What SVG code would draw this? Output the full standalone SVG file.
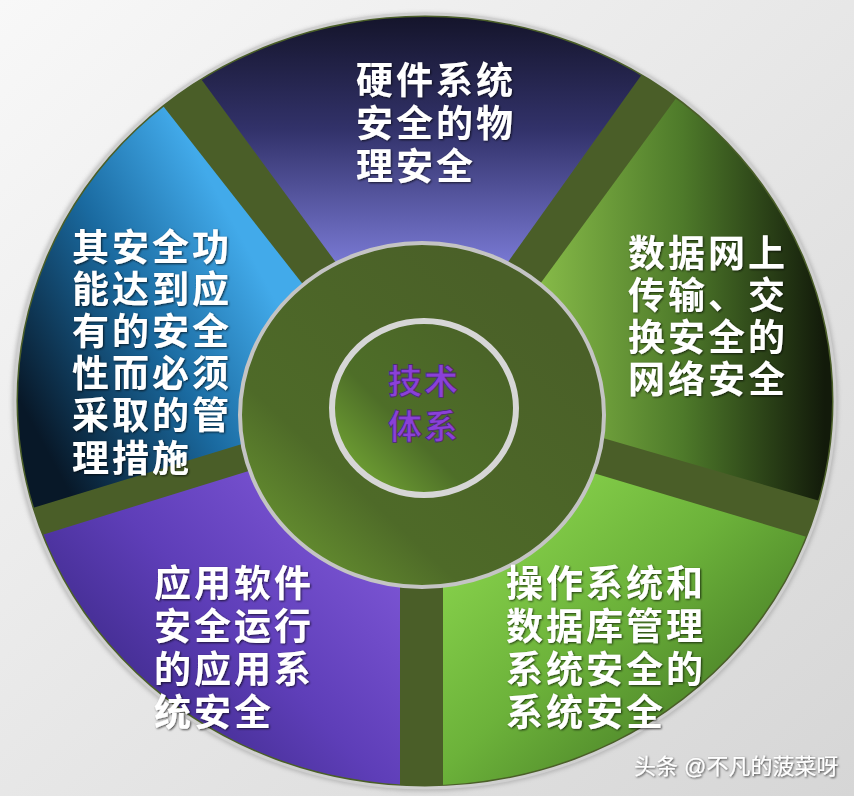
<svg xmlns="http://www.w3.org/2000/svg" width="854" height="796" viewBox="0 0 854 796">
<defs>
<style>
.lbl{font-family:"Liberation Sans","Noto Sans CJK SC",sans-serif;font-size:37px;font-weight:bold;fill:#ffffff;letter-spacing:3px;filter:url(#shadow);}
.ctr{font-family:"Liberation Sans","Noto Sans CJK SC",sans-serif;font-size:34px;font-weight:bold;fill:#8a40d8;stroke:#4a2a70;stroke-width:0.8;letter-spacing:2px;}
.foot{font-family:"Liberation Sans","Noto Sans CJK SC",sans-serif;font-size:22px;fill:#ffffff;filter:url(#shadow);}
</style>
<filter id="shadow" x="-10%" y="-10%" width="120%" height="130%">
<feDropShadow dx="1" dy="1" stdDeviation="1" flood-color="#000" flood-opacity="0.7"/>
</filter>
<filter id="rimblur" x="-5%" y="-5%" width="110%" height="110%">
<feGaussianBlur stdDeviation="2"/>
</filter>
<linearGradient id="bg" x1="0" y1="0" x2="1" y2="1">
<stop offset="0" stop-color="#f8f8f8"/>
<stop offset="1" stop-color="#d6d6d6"/>
</linearGradient>
<linearGradient id="gTop" gradientUnits="userSpaceOnUse" x1="0" y1="15" x2="0" y2="270">
<stop offset="0" stop-color="#14142a"/>
<stop offset="0.45" stop-color="#32326a"/>
<stop offset="1" stop-color="#7c7cd8"/>
</linearGradient>
<linearGradient id="gBlue" gradientUnits="userSpaceOnUse" x1="270" y1="290" x2="30" y2="420">
<stop offset="0" stop-color="#42aaea"/>
<stop offset="0.45" stop-color="#1a6aa0"/>
<stop offset="1" stop-color="#081828"/>
</linearGradient>
<linearGradient id="gPurple" gradientUnits="userSpaceOnUse" x1="390" y1="520" x2="120" y2="780">
<stop offset="0" stop-color="#8058d8"/>
<stop offset="0.5" stop-color="#5e3eb8"/>
<stop offset="1" stop-color="#34247c"/>
</linearGradient>
<linearGradient id="gLime" gradientUnits="userSpaceOnUse" x1="450" y1="470" x2="740" y2="790">
<stop offset="0" stop-color="#92de52"/>
<stop offset="0.5" stop-color="#6cb23a"/>
<stop offset="1" stop-color="#3c6c20"/>
</linearGradient>
<linearGradient id="gRight" gradientUnits="userSpaceOnUse" x1="540" y1="0" x2="825" y2="0">
<stop offset="0" stop-color="#86ba48"/>
<stop offset="0.5" stop-color="#4e7a2a"/>
<stop offset="1" stop-color="#121a0a"/>
</linearGradient>
<linearGradient id="gRing" gradientUnits="userSpaceOnUse" x1="260" y1="580" x2="520" y2="300">
<stop offset="0" stop-color="#6e9e32"/>
<stop offset="0.35" stop-color="#4e6a28"/>
<stop offset="1" stop-color="#4a6028"/>
</linearGradient>
<linearGradient id="gInner" gradientUnits="userSpaceOnUse" x1="340" y1="490" x2="500" y2="330">
<stop offset="0" stop-color="#78ae36"/>
<stop offset="0.4" stop-color="#4e6e28"/>
<stop offset="1" stop-color="#4a6228"/>
</linearGradient>
<clipPath id="disc">
<ellipse cx="425" cy="401" rx="407" ry="384"/>
</clipPath>
</defs>

<rect x="0" y="0" width="854" height="796" fill="url(#bg)"/>

<g id="wheel">
<ellipse cx="425" cy="402" rx="413" ry="389" fill="#9a9a9a" filter="url(#rimblur)" opacity="0.6"/>
<ellipse cx="425" cy="401" rx="410" ry="387" fill="#4a5e28" stroke="#cfcfcf" stroke-width="3"/>
<g clip-path="url(#disc)">
<polygon points="143,0 695,0 423,381" fill="url(#gTop)"/>
<polygon points="0,0 80,0 392,398 0,518" fill="url(#gBlue)"/>
<polygon points="0,548 400,424 400,796 0,796" fill="url(#gPurple)"/>
<polygon points="443,428 854,551 854,796 443,796" fill="url(#gLime)"/>
<polygon points="458,396 748,0 854,0 854,511" fill="url(#gRight)"/>
</g>
</g>

<g id="center">
<ellipse cx="422" cy="415" rx="182" ry="172" fill="url(#gRing)" stroke="#c4c4c4" stroke-width="4"/>
<ellipse cx="424" cy="408" rx="92" ry="87" fill="url(#gInner)" stroke="#d6d6d6" stroke-width="6"/>
<text class="ctr"><tspan x="388" y="394">技术</tspan><tspan x="388" y="439">体系</tspan></text>
</g>

<g id="node-top">
<text class="lbl"><tspan x="356" y="94">硬件系统</tspan><tspan x="356" y="137">安全的物</tspan><tspan x="356" y="180">理安全</tspan></text>
</g>

<g id="node-left">
<text class="lbl"><tspan x="72" y="261">其安全功</tspan><tspan x="72" y="303">能达到应</tspan><tspan x="72" y="345">有的安全</tspan><tspan x="72" y="387">性而必须</tspan><tspan x="72" y="429">采取的管</tspan><tspan x="72" y="472">理措施</tspan></text>
</g>

<g id="node-right">
<text class="lbl"><tspan x="628" y="267">数据网上</tspan><tspan x="628" y="309">传输、交</tspan><tspan x="628" y="351">换安全的</tspan><tspan x="628" y="393">网络安全</tspan></text>
</g>

<g id="node-bottom-left">
<text class="lbl"><tspan x="154" y="597">应用软件</tspan><tspan x="154" y="640">安全运行</tspan><tspan x="154" y="683">的应用系</tspan><tspan x="154" y="726">统安全</tspan></text>
</g>

<g id="node-bottom-right">
<text class="lbl"><tspan x="506" y="597">操作系统和</tspan><tspan x="506" y="640">数据库管理</tspan><tspan x="506" y="683">系统安全的</tspan><tspan x="506" y="726">系统安全</tspan></text>
</g>

<g id="connectors"></g>

<text class="foot" x="634" y="774">头条 @不凡的菠菜呀</text>
</svg>
